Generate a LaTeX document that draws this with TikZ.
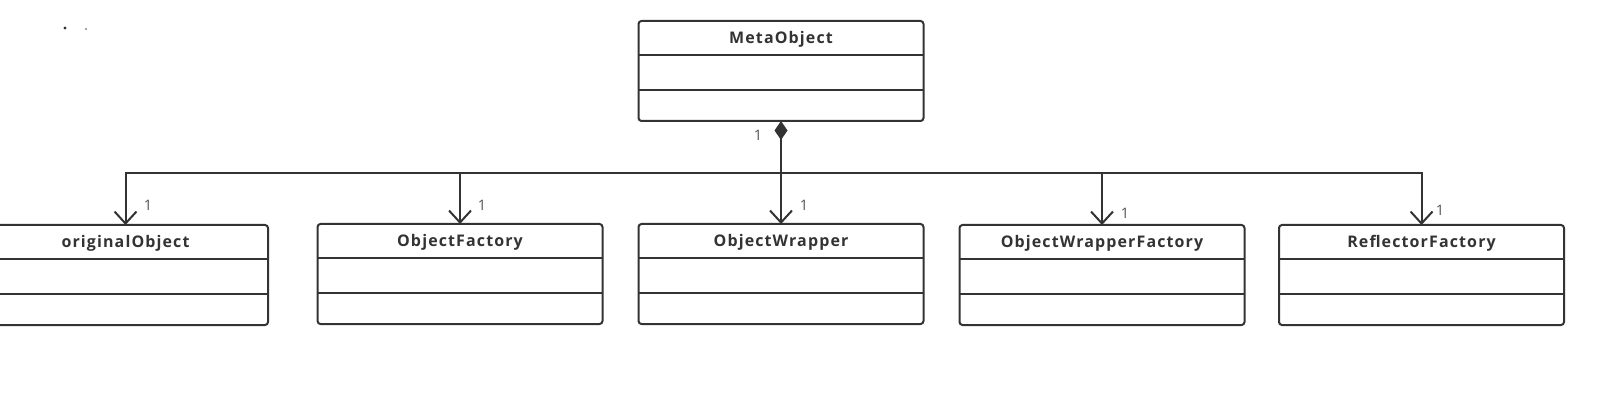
\documentclass[tikz,border=0pt]{standalone}
\usepackage{fontspec}
\setmainfont{Open Sans}
\usetikzlibrary{arrows.meta,calc}
\definecolor{linec}{HTML}{333333}
\definecolor{multc}{HTML}{555555}
\newfontfamily\titlefont[LetterSpace=7]{Open Sans}
\newcommand\umlclass[4]{%
  \node[cls] (#1) at (#2,#3) {};
  \node[ttl, anchor=base] (#1-t) at ($(#1.north)+(0,22.5)$) {#4};
  \draw[conn] ([yshift=-34pt]#1.north west) -- ([yshift=-34pt]#1.north east);
  \draw[conn] ([yshift=-69pt]#1.north west) -- ([yshift=-69pt]#1.north east);
}
\begin{document}
\begin{tikzpicture}[x=1pt,y=-1pt,
  cls/.style={draw=linec, line width=2pt, rounded corners=3pt, minimum width=285pt, minimum height=100pt, inner sep=0pt, outer sep=0pt},
  ttl/.style={font=\titlefont\bfseries\fontsize{16}{18}\selectfont, text=linec, inner sep=0pt},
  mult/.style={font=\fontsize{14.5}{16}\selectfont, text=multc, inner sep=0pt},
  conn/.style={draw=linec, line width=2pt},
  arr/.style={conn, -{Straight Barb[length=12pt,width=22pt,line width=2pt]}}]
\useasboundingbox (0,0) rectangle (1613,403);
\umlclass{meta}{781}{71}{MetaObject}
\umlclass{orig}{125.5}{275}{originalObject}
\umlclass{fact}{460}{274}{ObjectFactory}
\umlclass{wrap}{781}{274}{ObjectWrapper}
\umlclass{wfact}{1102}{275}{ObjectWrapperFactory}
\umlclass{refl}{1421.5}{275}{ReflectorFactory}
\coordinate (junc) at (781,173);
\draw[conn, {Diamond[length=19pt,width=13pt,fill=linec]}-] (meta.south) -- (junc);
\draw[arr] (junc) -| (orig.north);
\draw[arr] (junc) -| (fact.north);
\draw[arr] (junc) -- (wrap.north);
\draw[arr] (junc) -| (wfact.north);
\draw[arr] (junc) -| (refl.north);
\node[mult] (m0) at (758,135) {1};
\node[mult] (m1) at (148,205) {1};
\node[mult] (m2) at (482,205) {1};
\node[mult] (m3) at (804,205) {1};
\node[mult] (m4) at (1125,213) {1};
\node[mult] (m5) at (1440,210) {1};
\fill[linec] (65,28) circle (1.6pt);
\fill[linec!60] (86,29) circle (1.2pt);
\end{tikzpicture}
\end{document}
